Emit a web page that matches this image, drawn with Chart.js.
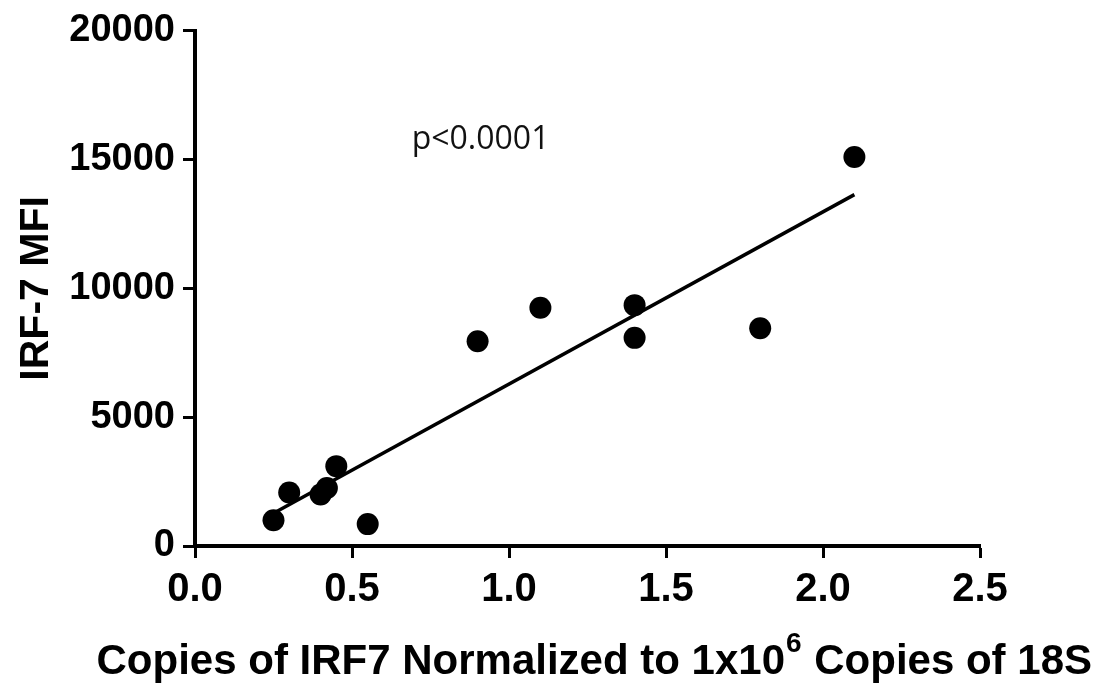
<!DOCTYPE html>
<html>
<head>
<meta charset="utf-8">
<script src="https://cdn.jsdelivr.net/npm/chart.js@4"></script>
<style>
  body { margin: 0; background: #fff; }
  #wrap { width: 1100px; height: 686px; }
</style>
</head>
<body>
<div id="wrap"><canvas id="myChart" width="1100" height="686"></canvas></div>
<script>
'use strict';

// values
const copiesIRF7 = [0.25, 0.30, 0.40, 0.42, 0.45, 0.55, 0.90, 1.10, 1.40, 1.40, 1.80, 2.10];
const mfiIRF7 = [1000, 2080, 2000, 2250, 3100, 850, 7950, 9250, 9350, 8080, 8450, 15100];
const fitX = [0.25, 2.10];   // regression line ends
const fitY = [1270, 13640];
const xTicks = [0.0, 0.5, 1.0, 1.5, 2.0, 2.5];
const yTicks = [0, 5000, 10000, 15000, 20000];
const pLabel = 'p<0.0001';
const xTitle = ['Copies of IRF7 Normalized to 1x10', '6', ' Copies of 18S'];
const yTitle = 'IRF-7 MFI';

const fam = '"Liberation Sans", Arial, sans-serif';

// draws the x title (has a superscript) and the p value
const extraText = {
    id: 'extraText',
    afterDraw(chart) {
        const ctx = chart.ctx;
        const xs = chart.scales.x, ys = chart.scales.y;
        ctx.save();
        ctx.fillStyle = '#111';
        ctx.textBaseline = 'alphabetic';
        ctx.font = '32px "Open Sans", sans-serif';
        ctx.fillText(pLabel, xs.getPixelForValue(0.69), ys.getPixelForValue(15420));

        ctx.fillStyle = '#000';
        const big = 'bold 42px ' + fam, small = 'bold 28px ' + fam;
        ctx.font = big;
        const w0 = ctx.measureText(xTitle[0]).width;
        const w2 = ctx.measureText(xTitle[2]).width;
        ctx.font = small;
        const w1 = ctx.measureText(xTitle[1]).width;
        let x = 1092 - (w0 + w1 + w2 + 2);
        const base = 674;
        ctx.font = big;
        ctx.fillText(xTitle[0], x, base);
        x += w0 + 1;
        ctx.font = small;
        ctx.fillText(xTitle[1], x, base - 22);
        x += w1 + 1;
        ctx.font = big;
        ctx.fillText(xTitle[2], x, base);
        ctx.restore();
    }
};

const ctx = document.getElementById('myChart');
const myChart = new Chart(ctx, {
    type: 'scatter',
    data: {
        datasets: [{
            label: 'samples',
            data: copiesIRF7.map((v, i) => ({ x: v, y: mfiIRF7[i] })),
            backgroundColor: '#000',
            borderWidth: 0,
            pointRadius: 11,
            pointHoverRadius: 11,
            clip: false
        }, {
            label: 'fit',
            data: fitX.map((v, i) => ({ x: v, y: fitY[i] })),
            showLine: true,
            borderColor: '#000',
            borderWidth: 3.5,
            pointRadius: 0,
            fill: false
        }]
    },
    options: {
        responsive: false,
        animation: false,
        layout: { padding: { top: 27, right: 120, left: 0, bottom: 0 } },
        plugins: {
            legend: { display: false },
            tooltip: { enabled: false }
        },
        scales: {
            x: {
                type: 'linear',
                min: 0,
                max: 2.5,
                afterBuildTicks: s => { s.ticks = xTicks.map(v => ({ value: v })); },
                afterFit: s => { s.height = 140; },
                ticks: {
                    color: '#000',
                    font: { family: fam, size: 40, weight: 'bold' },
                    padding: 8,
                    callback: v => Number(v).toFixed(1)
                },
                grid: { drawOnChartArea: false, tickLength: 12, tickWidth: 3, tickColor: '#000' },
                border: { color: '#000', width: 4 }
            },
            y: {
                min: 0,
                max: 20000,
                afterBuildTicks: s => { s.ticks = yTicks.map(v => ({ value: v })); },
                afterFit: s => { s.width = 195; },
                ticks: {
                    color: '#000',
                    font: { family: fam, size: 38, weight: 'bold' },
                    padding: 8,
                    callback: v => String(v)
                },
                grid: { drawOnChartArea: false, tickLength: 12, tickWidth: 3, tickColor: '#000' },
                border: { color: '#000', width: 4 },
                title: {
                    display: true,
                    text: yTitle,
                    color: '#000',
                    font: { family: fam, size: 41, weight: 'bold' },
                    padding: { top: 12, bottom: 0 }
                }
            }
        }
    },
    plugins: [extraText]
});
</script>
</body>
</html>
